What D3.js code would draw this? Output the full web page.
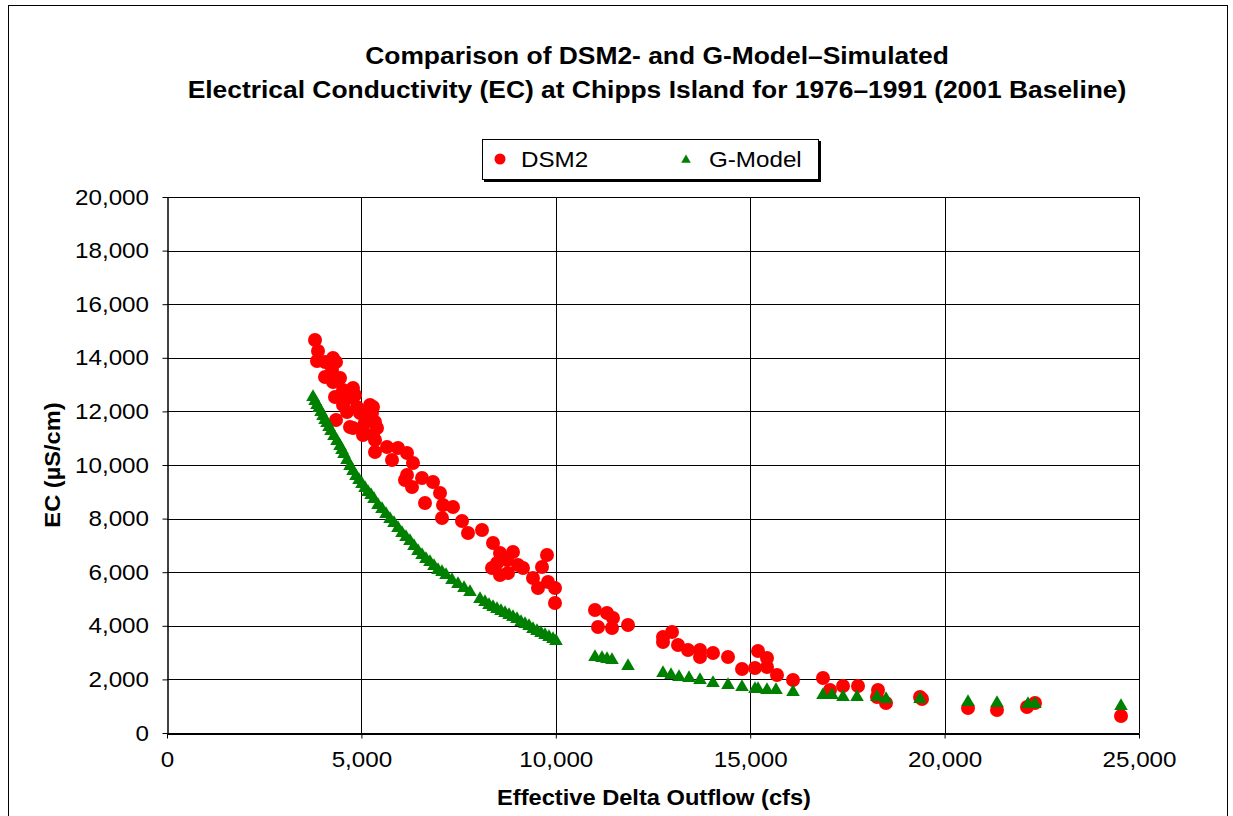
<!DOCTYPE html>
<html>
<head>
<meta charset="utf-8">
<script src="https://cdn.jsdelivr.net/npm/d3@7"></script>
<style>
  html, body { margin: 0; padding: 0; background: #fff; }
  svg { display: block; font-family: "Liberation Sans", Arial, sans-serif; }
</style>
</head>
<body>
<svg id="chart" width="1233" height="816"></svg>
<script>
// ---------------- data ----------------
const titleLines = [
  "Comparison of DSM2- and G-Model\u2013Simulated",
  "Electrical Conductivity (EC) at Chipps Island for 1976\u20131991 (2001 Baseline)"
];
const xLabel = "Effective Delta Outflow (cfs)";
const yLabel = "EC (\u00b5S/cm)";
const seriesNames = ["DSM2", "G-Model"];
const xTickValues = [0, 5000, 10000, 15000, 20000, 25000];
const yTickValues = [0, 2000, 4000, 6000, 8000, 10000, 12000, 14000, 16000, 18000, 20000];

// DSM2 outflow (cfs) and EC (uS/cm)
const dsm2Flow = [
  3807, 3884, 3858, 4064, 4270, 4347, 4064, 4244, 4270, 4450,
  4321, 4527, 4784, 4655, 4835, 4527, 4630, 4887, 5221, 4964,
  5273, 4784, 5041, 5350, 5401, 5041, 5298, 4347, 4630, 5093,
  5298, 4707, 5350, 5350, 5658, 5941, 6173, 5787, 6327, 6173,
  6121, 6559, 6842, 6301, 7022, 6636, 7099, 7356, 7073, 7587,
  7742, 8102, 8385, 8565, 8899, 8488, 8745, 8359, 8565, 8771,
  9028, 9156, 9774, 9645, 9413, 9542, 9799, 9979, 9979,
  11008, 11317, 11471, 11085, 11445, 11857, 12757, 12757, 12989, 13143,
  13400, 13709, 13709, 14043, 14429, 14789, 15123, 15201, 15432, 15432,
  15689, 16101, 16872, 17052, 17387, 17773, 18287, 18261, 18493, 19368,
  19419, 20602, 21348, 22119, 22325, 24537
];
const dsm2EC = [
  14663, 14252, 13879, 13842, 13991, 13842, 13282, 13544, 13096, 13245,
  12536, 12797, 12872, 12499, 12611, 12238, 11977, 12163, 12238, 11939,
  11939, 11380, 11417, 11603, 11380, 11118, 11118, 11678, 12723, 11603,
  12163, 11417, 10932, 10484, 10671, 10633, 10447, 10186, 10074, 9626,
  9439, 9514, 9365, 9178, 8954, 8581, 8507, 8432, 8022, 7910,
  7462, 7574, 7089, 6716, 6753, 6343, 6455, 6156, 5895, 5970,
  6268, 6156, 6641, 6193, 5783, 5410, 5634, 5410, 4850,
  4589, 4477, 4291, 3955, 3918, 4029, 3582, 3395, 3768, 3283,
  3097, 3097, 2836, 2985, 2836, 2388, 2425, 3059, 2798, 2462,
  2164, 1977, 2052, 1604, 1754, 1754, 1604, 1343, 1119, 1343,
  1269, 933, 858, 970, 1119, 634
];

// G-Model outflow (cfs) and EC (uS/cm)
const gFlow = [
  3755, 3807, 3858, 3909, 3961, 4012, 4064, 4115, 4167, 4218,
  4295, 4372, 4450, 4501, 4552, 4630, 4707, 4784, 4861, 4938,
  5015, 5093, 5170, 5247, 5324, 5427, 5530, 5633, 5736, 5838,
  5941, 6044, 6147, 6250, 6353, 6456, 6559, 6661, 6764, 6867,
  6970, 7073, 7176, 7330, 7484, 7639, 7793, 8050, 8179, 8282,
  8385, 8488, 8590, 8693, 8796, 8899, 9002, 9105, 9208, 9311,
  9413, 9516, 9619, 9722, 9825, 9928, 10005,
  11008, 11188, 11317, 11445, 11857, 12757, 12963, 13169, 13426, 13709,
  14043, 14429, 14789, 15123, 15201, 15432, 15663, 16101, 16872, 17104,
  17387, 17747, 18261, 18493, 19368, 20602, 21348, 22145, 22325, 24537
];
const gEC = [
  12536, 12387, 12237, 12126, 11977, 11827, 11678, 11566, 11417, 11268,
  11081, 10895, 10708, 10559, 10409, 10186, 9962, 9775, 9589, 9439,
  9290, 9141, 8992, 8880, 8731, 8507, 8357, 8171, 7984, 7835,
  7649, 7462, 7313, 7164, 6977, 6790, 6641, 6492, 6380, 6231,
  6082, 6007, 5895, 5708, 5559, 5410, 5261, 5000, 4888, 4776,
  4701, 4627, 4552, 4477, 4403, 4328, 4253, 4141, 4067, 3992,
  3880, 3806, 3731, 3656, 3582, 3507, 3433,
  2836, 2798, 2761, 2724, 2500, 2239, 2164, 2089, 2052, 1977,
  1866, 1791, 1716, 1642, 1642, 1604, 1604, 1530, 1418, 1418,
  1343, 1343, 1343, 1269, 1269, 1157, 1119, 1082, 1082, 1007
];

// ---------------- drawing ----------------
const svg = d3.select("#chart");
const W = 1233, H = 816;
const plot = { left: 167, right: 1139, top: 197, bottom: 733 };
const SX = 1.1; // horizontal stretch of glyphs seen in the reference

svg.append("rect").attr("x", 0).attr("y", 0).attr("width", W).attr("height", H).attr("fill", "#fff");
// outer chart frame
svg.append("rect")
  .attr("x", 8.5).attr("y", 5.5).attr("width", 1219).attr("height", 830)
  .attr("fill", "none").attr("stroke", "#000").attr("stroke-width", 1);

const x = d3.scaleLinear().domain([0, 25000]).range([plot.left, plot.right]);
const y = d3.scaleLinear().domain([0, 20000]).range([plot.bottom, plot.top]);

// gridlines
const grid = svg.append("g");
grid.selectAll("line.h").data(yTickValues.filter(v => v > 0)).enter().append("line")
  .attr("x1", plot.left).attr("x2", plot.right)
  .attr("y1", d => Math.round(y(d)) + 0.5).attr("y2", d => Math.round(y(d)) + 0.5)
  .attr("stroke", "#000").attr("stroke-width", 1);
grid.selectAll("line.v").data(xTickValues.filter(v => v > 0)).enter().append("line")
  .attr("y1", plot.top).attr("y2", plot.bottom)
  .attr("x1", d => Math.round(x(d)) + 0.5).attr("x2", d => Math.round(x(d)) + 0.5)
  .attr("stroke", "#000").attr("stroke-width", 1);

const fmt = d3.format(",");
// y axis
const yAxis = svg.append("g")
  .attr("transform", `translate(${plot.left + 0.5},0)`)
  .call(d3.axisLeft(y).tickValues(yTickValues).tickFormat(fmt).tickSizeInner(5).tickSizeOuter(0).tickPadding(13));
yAxis.select(".domain").attr("stroke", "#000").attr("stroke-width", 1.5);
yAxis.selectAll(".tick line").attr("stroke", "#000");
yAxis.selectAll("text").attr("font-size", 22).attr("fill", "#000")
  .attr("font-family", "'Liberation Sans', Arial, sans-serif")
  .attr("x", -18.5 / SX)
  .attr("transform", `scale(${SX},1)`);

// x axis
const xAxis = svg.append("g")
  .attr("transform", `translate(0,${plot.bottom + 0.5})`)
  .call(d3.axisBottom(x).tickValues(xTickValues).tickFormat(fmt).tickSizeInner(5).tickSizeOuter(0).tickPadding(13));
xAxis.select(".domain").attr("stroke", "#000").attr("stroke-width", 2);
xAxis.selectAll(".tick line").attr("stroke", "#000");
xAxis.selectAll("text").attr("font-size", 22).attr("fill", "#000")
  .attr("font-family", "'Liberation Sans', Arial, sans-serif")
  .attr("transform", `scale(${SX},1)`);

// DSM2 points (circles)
const dsm2 = dsm2Flow.map((f, i) => ({ f, ec: dsm2EC[i] }));
const gm = gFlow.map((f, i) => ({ f, ec: gEC[i] }));

svg.append("g").selectAll("circle").data(dsm2).enter().append("circle")
  .attr("cx", d => x(d.f)).attr("cy", d => y(d.ec)).attr("r", 7)
  .attr("fill", "#ff0000");

// G-Model points (triangles)
const tri = d3.symbol().type(d3.symbolTriangle).size(80);
svg.append("g").selectAll("path").data(gm).enter().append("path")
  .attr("d", tri)
  .attr("transform", d => `translate(${x(d.f)},${y(d.ec)})`)
  .attr("fill", "#008000");

// helper for horizontally stretched text
function stretchedText(parent, tx, ty, str, size, weight, anchor, rotate) {
  return parent.append("text")
    .attr("transform", `translate(${tx},${ty})${rotate ? " rotate(-90)" : ""} scale(${SX},1)`)
    .attr("text-anchor", anchor)
    .attr("font-size", size).attr("font-weight", weight).attr("fill", "#000")
    .text(str);
}

// title
titleLines.forEach((t, i) => stretchedText(svg, 657, 64 + i * 34, t, 24, "bold", "middle", false));

// axis titles
stretchedText(svg, 654, 805, xLabel, 21.5, "bold", "middle", false);
stretchedText(svg, 60, (plot.top + plot.bottom) / 2, yLabel, 21.5, "bold", "middle", true);

// legend
const lg = svg.append("g");
lg.append("rect").attr("x", 484).attr("y", 141).attr("width", 337).attr("height", 41).attr("fill", "#000");
lg.append("rect").attr("x", 482.5).attr("y", 139.5).attr("width", 336).attr("height", 40)
  .attr("fill", "#fff").attr("stroke", "#000").attr("stroke-width", 1);
lg.append("circle").attr("cx", 500).attr("cy", 159).attr("r", 5.5).attr("fill", "#ff0000");
stretchedText(lg, 521, 167, seriesNames[0], 22, "normal", "start", false);
lg.append("path").attr("d", d3.symbol().type(d3.symbolTriangle).size(40))
  .attr("transform", "translate(686,160)").attr("fill", "#008000");
stretchedText(lg, 709, 167, seriesNames[1], 22, "normal", "start", false);
</script>
</body>
</html>
